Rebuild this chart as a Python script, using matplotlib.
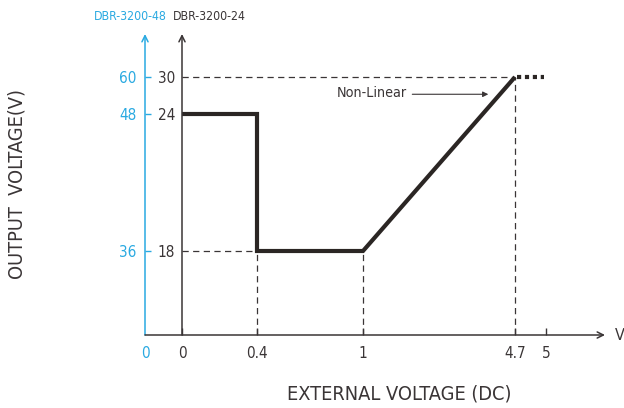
import numpy as np
import matplotlib
matplotlib.use("Agg")
import matplotlib.pyplot as plt

plt.rcParams['font.family'] = ['DejaVu Sans']
plt.rcParams['font.stretch'] = 'condensed'

# --- data ---
x_ticks = [0, 0.4, 1, 4.7, 5]
x_ticklabels = ['0', '0.4', '1', '4.7', '5']
y24_ticks = [18, 24, 30]          # DBR-3200-24
y48_ticks = [36, 48, 60]          # DBR-3200-48
curve_x = [0, 0.4, 0.4, 1, 4.7]
curve_y = [24, 24, 18, 18, 30]
ext_x = [4.72, 4.98]
ext_y = [30, 30]

# rysunek nie jest w skali -> skala kawalkami liniowa
xb_data = [-0.6, 0, 0.4, 1, 4.7, 5, 6]
xb_pos = [0, 37, 112, 218, 370, 401, 460]
yb_data = [0, 18, 24, 30, 35]
yb_pos = [0, 84, 221, 258, 301]

BLUE = '#29a9e1'
DARK = '#3a3536'
LINE = '#2b2624'


def fx(x):
    return np.interp(x, xb_data, xb_pos)


def fx_inv(p):
    return np.interp(p, xb_pos, xb_data)


def fy(y):
    return np.interp(y, yb_data, yb_pos)


def fy_inv(p):
    return np.interp(p, yb_pos, yb_data)


def fy2(y):
    return np.interp(y, [2 * v for v in yb_data], yb_pos)


def fy2_inv(p):
    return np.interp(p, yb_pos, [2 * v for v in yb_data])


W, H = 624, 408
fig = plt.figure(figsize=(W / 100, H / 100), dpi=100)
rect = [145 / W, 73 / H, 460 / W, 301 / H]

# os niebieska (DBR-3200-48)
axb = fig.add_axes(rect)
axb.set_yscale('function', functions=(fy2, fy2_inv))
axb.set_ylim(0, 70)
axb.set_xlim(0, 1)
axb.patch.set_visible(False)
for s in axb.spines.values():
    s.set_visible(False)
axb.set_yticks(y48_ticks)
axb.set_yticklabels([str(v) for v in y48_ticks])
axb.tick_params(axis='y', direction='in', length=4, width=1, color=BLUE,
                labelcolor=BLUE, labelsize=11, pad=6)
axb.set_xticks([0])
axb.set_xticklabels(['0'])
axb.tick_params(axis='x', length=0, labelcolor=BLUE, labelsize=11, pad=8)
axb.annotate('', xy=(0, 70), xytext=(0, 0),
             arrowprops=dict(arrowstyle='->', lw=1.1, color=BLUE,
                             shrinkA=0, shrinkB=0, mutation_scale=11))

# os glowna (DBR-3200-24)
ax = fig.add_axes(rect)
ax.set_xscale('function', functions=(fx, fx_inv))
ax.set_yscale('function', functions=(fy, fy_inv))
ax.set_xlim(xb_data[0], xb_data[-1])
ax.set_ylim(yb_data[0], yb_data[-1])
ax.patch.set_visible(False)
ax.spines['left'].set_position(('data', 0))
for s in ax.spines.values():
    s.set_visible(False)

ax.set_yticks(y24_ticks)
ax.set_yticklabels([str(v) for v in y24_ticks])
ax.tick_params(axis='y', length=0, labelcolor=DARK, labelsize=11, pad=5)
ax.set_xticks(x_ticks)
ax.set_xticklabels(x_ticklabels)
ax.tick_params(axis='x', direction='in', length=5, width=1, color=DARK,
               labelcolor=DARK, labelsize=11, pad=8)

# osie ze strzalkami
arr = dict(arrowstyle='->', lw=1.1, color=DARK, shrinkA=0, shrinkB=0,
           mutation_scale=11)
ax.annotate('', xy=(xb_data[-1], 0), xytext=(xb_data[0], 0), arrowprops=arr)
ax.annotate('', xy=(0, yb_data[-1]), xytext=(0, 0), arrowprops=arr)
ax.text(1.021, 0, 'V', transform=ax.get_yaxis_transform(), ha='left',
        va='center', fontsize=11.5, color=DARK)

# linie pomocnicze
dash = dict(color=DARK, lw=0.9, linestyle=(0, (5, 3.5)))
ax.plot([0, curve_x[-1]], [curve_y[-1], curve_y[-1]], **dash)
ax.plot([0, curve_x[2]], [curve_y[2], curve_y[2]], **dash)
for xv, yv in zip(curve_x[2:], curve_y[2:]):
    ax.plot([xv, xv], [0, yv], **dash)

# charakterystyka
ax.plot(curve_x, curve_y, color=LINE, lw=3, solid_joinstyle='miter',
        solid_capstyle='butt')
ax.plot(ext_x, ext_y, color=LINE, lw=3, linestyle=(0, (1, 0.9)),
        dash_capstyle='butt')

ax.text(2.07, 27.35, 'Non-Linear', ha='right', va='center', fontsize=10.3,
        color=DARK)
ax.annotate('', xy=(4.05, 27.2), xytext=(2.2, 27.2),
            arrowprops=dict(arrowstyle='-|>', lw=0.8, color=DARK,
                            shrinkA=0, shrinkB=0, mutation_scale=8))

# naglowki osi i opisy
fig.text(167 / W, 1 - 16 / H, 'DBR-3200-48', ha='right', va='center',
         fontsize=8.8, color=BLUE)
fig.text(173 / W, 1 - 16 / H, 'DBR-3200-24', ha='left', va='center',
         fontsize=8.8, color=DARK)
fig.text(399 / W, 1 - 394 / H, 'EXTERNAL VOLTAGE (DC)', ha='center',
         va='center', fontsize=14.3, color=DARK)
fig.text(17 / W, 1 - 184 / H, 'OUTPUT  VOLTAGE(V)', ha='center',
         va='center', rotation=90, fontsize=14.3, color=DARK)

fig.savefig('out.png', dpi=100)
